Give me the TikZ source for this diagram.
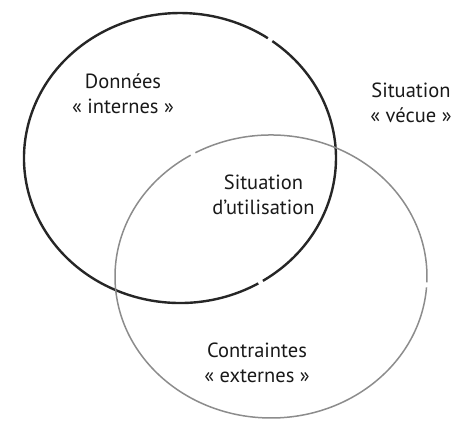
\documentclass[tikz,border=0pt]{standalone}
\usepackage{fontspec}
\setmainfont{PT Sans}
\begin{document}
\begin{tikzpicture}[x=1pt,y=-1pt,
  darkring/.style={draw=black!85,line width=2.4pt},
  grayring/.style={draw=black!45,line width=1.5pt},
  lbl/.style={align=center,inner sep=0pt,text=black!90,
    font=\fontsize{20.5}{25}\selectfont}]
\useasboundingbox (0,0) rectangle (453,425);
\coordinate (dc) at (180,158);
\coordinate (gc) at (271,276.5);
\draw[darkring] (dc) ++(-53.7:156 and 145) arc[start angle=-53.7, end angle=57.9, x radius=156, y radius=145];
\draw[darkring] (dc) ++(59.9:156 and 145) arc[start angle=59.9, end angle=304.3, x radius=156, y radius=145];
\draw[grayring] (gc) ++(-119:156 and 141.5) arc[start angle=-119, end angle=2.4, x radius=156, y radius=141.5];
\draw[grayring] (gc) ++(4.4:156 and 141.5) arc[start angle=4.4, end angle=239, x radius=156, y radius=141.5];
\node[lbl] (donnees) at (123,93.7) {Données\\« internes »};
\node[lbl] (vecue) at (411,103) {Situation\\« vécue »};
\node[lbl] (utilisation) at (263.5,195) {Situation\\d’utilisation};
\node[lbl] (contraintes) at (257,363) {Contraintes\\« externes »};
\end{tikzpicture}
\end{document}
